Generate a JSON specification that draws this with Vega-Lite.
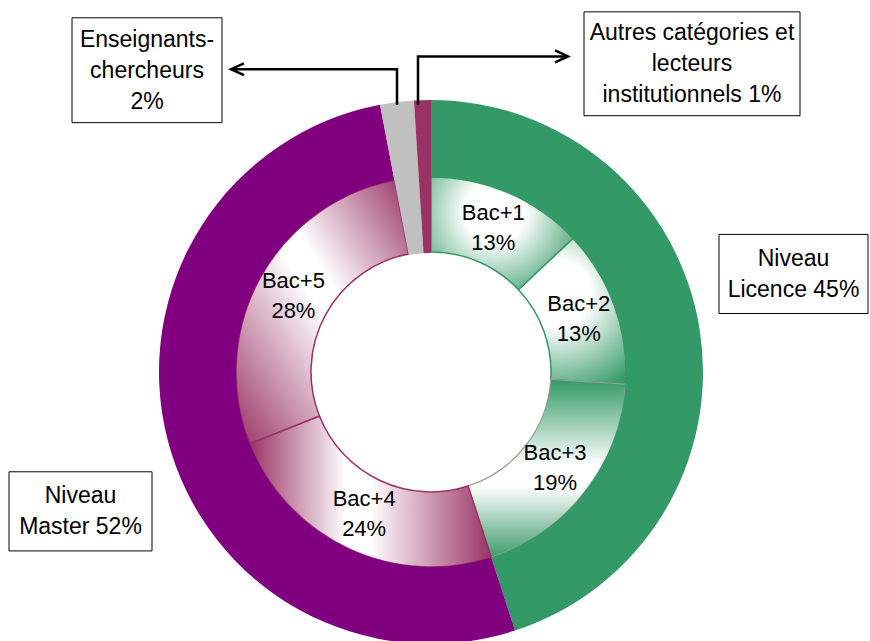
{
  "$schema": "https://vega.github.io/schema/vega-lite/v6.json",
  "autosize": {"type": "fit", "contains": "padding"},
  "width": 870,
  "height": 641,
  "padding": 0,
  "background": "white",
  "config": {"view": {"stroke": null}, "font": "Liberation Sans"},
  "datasets": {
    "outer": [
      {"name": "Niveau Licence", "value": 45, "order": 1},
      {"name": "Niveau Master", "value": 52, "order": 2},
      {"name": "Enseignants-chercheurs", "value": 2, "order": 3},
      {"name": "Autres catégories et lecteurs institutionnels", "value": 1, "order": 4}
    ],
    "inner": [
      {"name": "Bac+1", "value": 13, "order": 1},
      {"name": "Bac+2", "value": 13, "order": 2},
      {"name": "Bac+3", "value": 19, "order": 3},
      {"name": "Bac+4", "value": 24, "order": 4},
      {"name": "Bac+5", "value": 28, "order": 5},
      {"name": "Enseignants-chercheurs", "value": 2, "order": 6},
      {"name": "Autres catégories et lecteurs institutionnels", "value": 1, "order": 7}
    ],
    "boxes": [
      {"label": "Enseignants-\nchercheurs\n2%", "x": 72, "x2": 222, "y": 18, "y2": 124},
      {"label": "Autres catégories et\nlecteurs\ninstitutionnels 1%", "x": 584, "x2": 800, "y": 12, "y2": 117},
      {"label": "Niveau\nLicence 45%", "x": 719, "x2": 868, "y": 237, "y2": 317},
      {"label": "Niveau\nMaster 52%", "x": 9, "x2": 152, "y": 477, "y2": 557}
    ],
    "arrows": [
      {"id": "a", "i": 0, "x": 397, "y": 106},
      {"id": "a", "i": 1, "x": 397, "y": 70},
      {"id": "a", "i": 2, "x": 232, "y": 70},
      {"id": "ah", "i": 0, "x": 244, "y": 64},
      {"id": "ah", "i": 1, "x": 231, "y": 70},
      {"id": "ah", "i": 2, "x": 244, "y": 76},
      {"id": "b", "i": 0, "x": 418, "y": 106},
      {"id": "b", "i": 1, "x": 418, "y": 57},
      {"id": "b", "i": 2, "x": 566, "y": 57},
      {"id": "bh", "i": 0, "x": 555, "y": 51},
      {"id": "bh", "i": 1, "x": 568, "y": 57},
      {"id": "bh", "i": 2, "x": 555, "y": 63}
    ]
  },
  "layer": [
    {
      "data": {"name": "inner"},
      "transform": [
        {"stack": "value", "groupby": [], "sort": [{"field": "order", "order": "ascending"}], "as": ["v0", "v1"]},
        {"filter": "datum.name === 'Bac+1'"}
      ],
      "mark": {"type": "arc", "innerRadius": 120, "outerRadius": 195, "stroke": "#339966", "strokeWidth": 1.5,
        "fill": {"gradient": "radial", "x1": 0.45, "y1": 0.35, "r1": 0, "x2": 0.45, "y2": 0.35, "r2": 0.7,
          "stops": [{"offset": 0, "color": "#ffffff"}, {"offset": 0.3, "color": "#ffffff"}, {"offset": 1, "color": "#339966"}]}},
      "encoding": {
        "x": {"datum": 431, "type": "quantitative", "scale": {"domain": [0, 870], "nice": false, "zero": false}, "axis": null},
        "y": {"datum": 376, "type": "quantitative", "scale": {"domain": [0, 641], "nice": false, "zero": false, "reverse": true}, "axis": null},
        "theta": {"field": "v0", "type": "quantitative", "stack": null, "scale": {"type": "linear", "domain": [0, 100], "range": [0, 6.283185307179586], "nice": false}},
        "theta2": {"field": "v1"}
      }
    },
    {
      "data": {"name": "inner"},
      "transform": [
        {"stack": "value", "groupby": [], "sort": [{"field": "order", "order": "ascending"}], "as": ["v0", "v1"]},
        {"filter": "datum.name === 'Bac+2'"}
      ],
      "mark": {"type": "arc", "innerRadius": 120, "outerRadius": 195, "stroke": "#339966", "strokeWidth": 1.5,
        "fill": {"gradient": "radial", "x1": 0.4, "y1": 0.38, "r1": 0, "x2": 0.4, "y2": 0.38, "r2": 0.75,
          "stops": [{"offset": 0, "color": "#ffffff"}, {"offset": 0.3, "color": "#ffffff"}, {"offset": 1, "color": "#339966"}]}},
      "encoding": {
        "x": {"datum": 431, "type": "quantitative"},
        "y": {"datum": 376, "type": "quantitative"},
        "theta": {"field": "v0", "type": "quantitative", "stack": null},
        "theta2": {"field": "v1"}
      }
    },
    {
      "data": {"name": "inner"},
      "transform": [
        {"stack": "value", "groupby": [], "sort": [{"field": "order", "order": "ascending"}], "as": ["v0", "v1"]},
        {"filter": "datum.name === 'Bac+3'"}
      ],
      "mark": {"type": "arc", "innerRadius": 120, "outerRadius": 195, "stroke": "#999999", "strokeWidth": 1.2,
        "fill": {"gradient": "linear", "x1": 0, "y1": 0, "x2": 0, "y2": 1,
          "stops": [{"offset": 0, "color": "#339966"}, {"offset": 0.48, "color": "#ffffff"}, {"offset": 0.6, "color": "#ffffff"}, {"offset": 1, "color": "#3d9b6c"}]}},
      "encoding": {
        "x": {"datum": 431, "type": "quantitative"},
        "y": {"datum": 376, "type": "quantitative"},
        "theta": {"field": "v0", "type": "quantitative", "stack": null},
        "theta2": {"field": "v1"}
      }
    },
    {
      "data": {"name": "inner"},
      "transform": [
        {"stack": "value", "groupby": [], "sort": [{"field": "order", "order": "ascending"}], "as": ["v0", "v1"]},
        {"filter": "datum.name === 'Bac+4'"}
      ],
      "mark": {"type": "arc", "innerRadius": 120, "outerRadius": 195, "stroke": "#993366", "strokeWidth": 1.5,
        "fill": {"gradient": "linear", "x1": 0, "y1": 0, "x2": 1, "y2": 0,
          "stops": [{"offset": 0, "color": "#993366"}, {"offset": 0.4, "color": "#ffffff"}, {"offset": 0.5, "color": "#ffffff"}, {"offset": 1, "color": "#993366"}]}},
      "encoding": {
        "x": {"datum": 431, "type": "quantitative"},
        "y": {"datum": 376, "type": "quantitative"},
        "theta": {"field": "v0", "type": "quantitative", "stack": null},
        "theta2": {"field": "v1"}
      }
    },
    {
      "data": {"name": "inner"},
      "transform": [
        {"stack": "value", "groupby": [], "sort": [{"field": "order", "order": "ascending"}], "as": ["v0", "v1"]},
        {"filter": "datum.name === 'Bac+5'"}
      ],
      "mark": {"type": "arc", "innerRadius": 120, "outerRadius": 195, "stroke": "#993366", "strokeWidth": 1.5,
        "fill": {"gradient": "linear", "x1": 1, "y1": 0, "x2": 0, "y2": 1,
          "stops": [{"offset": 0, "color": "#993366"}, {"offset": 0.42, "color": "#ffffff"}, {"offset": 0.5, "color": "#ffffff"}, {"offset": 1, "color": "#993366"}]}},
      "encoding": {
        "x": {"datum": 431, "type": "quantitative"},
        "y": {"datum": 376, "type": "quantitative"},
        "theta": {"field": "v0", "type": "quantitative", "stack": null},
        "theta2": {"field": "v1"}
      }
    },
    {
      "data": {"name": "inner"},
      "transform": [
        {"stack": "value", "groupby": [], "sort": [{"field": "order", "order": "ascending"}], "as": ["v0", "v1"]},
        {"filter": "datum.order > 5"}
      ],
      "mark": {"type": "arc", "innerRadius": 119, "outerRadius": 196},
      "encoding": {
        "x": {"datum": 431, "type": "quantitative"},
        "y": {"datum": 376, "type": "quantitative"},
        "theta": {"field": "v0", "type": "quantitative", "stack": null},
        "theta2": {"field": "v1"},
        "color": {"field": "name", "type": "nominal", "legend": null,
          "scale": {"domain": ["Niveau Licence", "Niveau Master", "Enseignants-chercheurs", "Autres catégories et lecteurs institutionnels"],
                    "range": ["#339966", "#800080", "#c0c0c0", "#993366"]}}
      }
    },
    {
      "data": {"name": "outer"},
      "transform": [
        {"stack": "value", "groupby": [], "sort": [{"field": "order", "order": "ascending"}], "as": ["v0", "v1"]}
      ],
      "mark": {"type": "arc", "innerRadius": 195, "outerRadius": 272},
      "encoding": {
        "x": {"datum": 431, "type": "quantitative"},
        "y": {"datum": 376, "type": "quantitative"},
        "theta": {"field": "v0", "type": "quantitative", "stack": null},
        "theta2": {"field": "v1"},
        "color": {"field": "name", "type": "nominal", "legend": null}
      }
    },
    {
      "data": {"name": "inner"},
      "transform": [
        {"stack": "value", "groupby": [], "sort": [{"field": "order", "order": "ascending"}], "as": ["v0", "v1"]},
        {"filter": "datum.order <= 5"},
        {"calculate": "(datum.v0 + datum.v1) / 2", "as": "mid"},
        {"calculate": "datum.name + '\\n' + datum.value + '%'", "as": "label"}
      ],
      "mark": {"type": "text", "radius": 157, "dy": -15, "fontSize": 22, "font": "Liberation Sans", "lineBreak": "\n", "lineHeight": 30, "align": "center", "baseline": "middle", "color": "#000000"},
      "encoding": {
        "x": {"datum": 431, "type": "quantitative"},
        "y": {"datum": 376, "type": "quantitative"},
        "theta": {"field": "mid", "type": "quantitative", "stack": null},
        "text": {"field": "label"}
      }
    },
    {
      "data": {"name": "boxes"},
      "mark": {"type": "rect", "fill": "#ffffff", "stroke": "#000000", "strokeWidth": 1},
      "encoding": {
        "x": {"field": "x", "type": "quantitative"},
        "x2": {"field": "x2"},
        "y": {"field": "y", "type": "quantitative"},
        "y2": {"field": "y2"}
      }
    },
    {
      "data": {"name": "boxes"},
      "transform": [
        {"calculate": "(datum.x + datum.x2) / 2", "as": "cx"},
        {"calculate": "(datum.y + datum.y2) / 2 - (split(datum.label, '\\n').length - 1) * 15.5", "as": "cy"}
      ],
      "mark": {"type": "text", "fontSize": 23, "font": "Liberation Sans", "lineBreak": "\n", "lineHeight": 31, "align": "center", "baseline": "middle", "color": "#000000"},
      "encoding": {
        "x": {"field": "cx", "type": "quantitative"},
        "y": {"field": "cy", "type": "quantitative"},
        "text": {"field": "label"}
      }
    },
    {
      "data": {"name": "arrows"},
      "mark": {"type": "line", "color": "#000000", "strokeWidth": 2.5, "strokeJoin": "miter", "strokeCap": "butt"},
      "encoding": {
        "x": {"field": "x", "type": "quantitative"},
        "y": {"field": "y", "type": "quantitative"},
        "detail": {"field": "id"},
        "order": {"field": "i", "type": "quantitative"}
      }
    }
  ]
}
